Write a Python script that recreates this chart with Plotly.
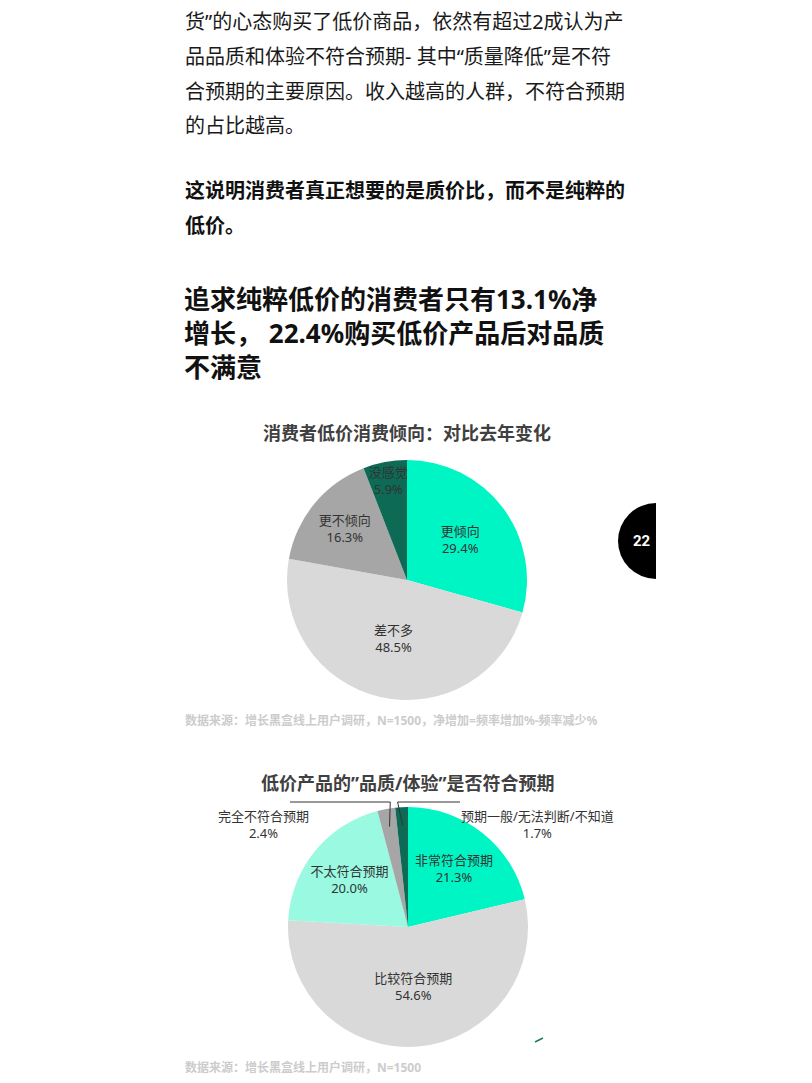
import math
import plotly.graph_objects as go

W, H = 812, 1083
OFF = 8  # the page body has an 8px margin, so the figure starts at (8, 8)
FW, FH = W - OFF, H - OFF
FONT = "Noto Sans, Noto Sans CJK SC"

# page text
body_lines = [
    "货”的心态购买了低价商品，依然有超过2成认为产",
    "品品质和体验不符合预期- 其中“质量降低”是不符",
    "合预期的主要原因。收入越高的人群，不符合预期",
    "的占比越高。",
]
bold_lines = [
    "这说明消费者真正想要的是质价比，而不是纯粹的",
    "低价。",
]
heading_lines = [
    "追求纯粹低价的消费者只有13.1%净",
    "增长， 22.4%购买低价产品后对品质",
    "不满意",
]

# chart 1
title1 = "消费者低价消费倾向：对比去年变化"
labels1 = ["更倾向", "差不多", "更不倾向", "没感觉"]
values1 = [29.4, 48.5, 16.3, 5.9]
colors1 = ["#00F5C4", "#D9D9D9", "#A6A6A6", "#0D6B55"]
source1 = "数据来源：增长黑盒线上用户调研，N=1500，净增加=频率增加%-频率减少%"

# chart 2
title2 = "低价产品的”品质/体验”是否符合预期"
labels2 = ["非常符合预期", "比较符合预期", "不太符合预期", "完全不符合预期", "预期一般/无法判断/不知道"]
values2 = [21.3, 54.6, 20.0, 2.4, 1.7]
colors2 = ["#00F5C4", "#D9D9D9", "#99F9E1", "#A6A6A6", "#0D6B55"]
source2 = "数据来源：增长黑盒线上用户调研，N=1500"

page_no = "22"


def px(x):
    return (x - OFF) / FW


def py(y):
    return 1 - (y - OFF) / FH


fig = go.Figure()

pie_style = dict(
    sort=False, direction="clockwise", rotation=0,
    textinfo="none", hoverinfo="label+percent",
    marker_line_width=0, showlegend=False,
    textfont=dict(family=FONT, size=13, color="#333333"),
    insidetextorientation="horizontal",
)

# pie 1, centre (407, 580), r 120
fig.add_trace(go.Pie(
    labels=labels1, values=values1, marker_colors=colors1,
    texttemplate="%{label}<br>%{value:.1f}%", textposition="inside",
    domain=dict(x=[px(287), px(527)], y=[py(700), py(460)]),
    **pie_style,
))

# pie 2, centre (408, 927), r 120; two thin slices labelled outside by hand
inside2 = [v > 5 for v in values2]
fig.add_trace(go.Pie(
    labels=labels2, values=values2, marker_colors=colors2,
    texttemplate=["%{label}<br>%{value:.1f}%" if k else "" for k in inside2],
    textposition="inside",
    domain=dict(x=[px(288), px(528)], y=[py(1047), py(807)]),
    **pie_style,
))

ann = []
for i, t in enumerate(body_lines):
    ann.append(dict(x=px(183), y=py(22 + i * 34.5), text=t, xanchor="left", yanchor="middle",
                    font=dict(family=FONT, size=20, color="#1a1a1a")))
for i, t in enumerate(bold_lines):
    ann.append(dict(x=px(183), y=py(190 + i * 35), text="<b>" + t + "</b>", xanchor="left", yanchor="middle",
                    font=dict(family=FONT, size=20, color="#111111")))
ann.append(dict(x=px(182), y=py(333), text="<b>" + "<br>".join(heading_lines) + "</b>",
                xanchor="left", yanchor="middle", align="left",
                font=dict(family=FONT, size=26, color="#111111")))

ann.append(dict(x=px(407), y=py(433), text="<b>" + title1 + "</b>", xanchor="center", yanchor="middle",
                font=dict(family=FONT, size=18, color="#404040")))
ann.append(dict(x=px(408), y=py(783), text="<b>" + title2 + "</b>", xanchor="center", yanchor="middle",
                font=dict(family=FONT, size=18, color="#404040")))
ann.append(dict(x=px(183), y=py(720), text="<b>" + source1 + "</b>", xanchor="left", yanchor="middle",
                font=dict(family=FONT, size=12, color="#cccccc")))
ann.append(dict(x=px(183), y=py(1067), text="<b>" + source2 + "</b>", xanchor="left", yanchor="middle",
                font=dict(family=FONT, size=12, color="#cccccc")))

# outside labels and leader lines for the thin slices of pie 2
cx, cy, r = 408, 927, 120
total = sum(values2)
starts = [sum(values2[:i]) for i in range(len(values2))]
shapes = []
outside = {3: (263, -1, 290), 4: (537, 1, 460)}
for i, (lx, side, end_x) in outside.items():
    mid = (starts[i] + values2[i] / 2) / total * 2 * math.pi
    ex = cx + math.sin(mid) * r * 0.85
    ey = cy - math.cos(mid) * r * 0.85
    elbow_x = cx + math.sin(mid) * r - side * 4
    elbow_y = cy - r - 5
    path = "M {} {} L {} {} L {} {}".format(px(ex), py(ey), px(elbow_x), py(elbow_y), px(end_x), py(elbow_y))
    shapes.append(dict(type="path", path=path, xref="paper", yref="paper",
                       line=dict(color="#333333", width=1)))
    ann.append(dict(x=px(lx), y=py(824), text="{}<br>{:.1f}%".format(labels2[i], values2[i]),
                    xanchor="center", yanchor="middle", align="center",
                    font=dict(family=FONT, size=13, color="#333333")))

# page number tab
shapes.append(dict(type="circle", xref="paper", yref="paper", x0=px(618), x1=px(694), y0=py(579), y1=py(503),
                   fillcolor="black", line_width=0, layer="above"))
shapes.append(dict(type="rect", xref="paper", yref="paper", x0=px(656), x1=px(700), y0=py(585), y1=py(497),
                   fillcolor="white", line_width=0, layer="above"))
ann.append(dict(x=px(642), y=py(541), text="<b>" + page_no + "</b>", xanchor="center", yanchor="middle",
                font=dict(family="Roboto", size=15, color="white")))

# stray tick near the second chart
shapes.append(dict(type="line", xref="paper", yref="paper", x0=px(535), y0=py(1042), x1=px(543), y1=py(1038),
                   line=dict(color="#1a7a5e", width=1.5)))

for a in ann:
    a.update(xref="paper", yref="paper", showarrow=False)

fig.update_layout(
    width=FW, height=FH, margin=dict(l=0, r=0, t=0, b=0),
    paper_bgcolor="white", plot_bgcolor="white",
    annotations=ann, shapes=shapes,
    uniformtext=dict(minsize=13, mode="show"),
)
fig.write_html("out.html")
